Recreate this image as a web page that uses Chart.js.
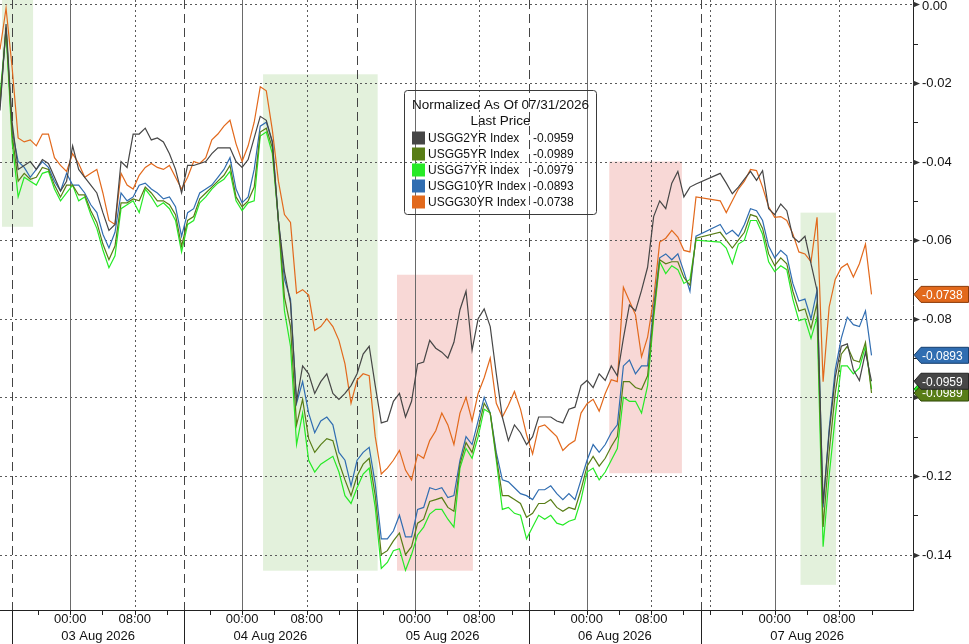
<!DOCTYPE html>
<html>
<head>
<meta charset="utf-8">
<title>USGG curve, normalized</title>
<script src="https://cdn.jsdelivr.net/npm/chart.js@4.4.1/dist/chart.umd.min.js"></script>
<style>
  html, body { margin: 0; padding: 0; background: #fff; }
  #wrap { position: relative; width: 969px; height: 644px; }
</style>
</head>
<body>
<div id="wrap"><canvas id="chartYields" width="969" height="644"></canvas></div>
<script>
/*
 * Treasury yields normalized to 07/31/2026, intraday 03-07 Aug 2026
 */
(function () {
  "use strict";

  var seriesNames = ["USGG2YR Index", "USGG5YR Index", "USGG7YR Index", "USGG10YR Index", "USGG30YR Index"];
  var lastPrices = [-0.0959, -0.0989, -0.0979, -0.0893, -0.0738];

  // one sample every 45 minutes of session time, values in thousandths
  var stepHours = 0.75;

  var usgg2yr = [
    -27, -5, -30, -42, -41, -40, -42, -39.5, -40.5, -44,
    -47.5, -45, -36, -42, -44, -46, -48, -53, -57.5, -56,
    -40, -41.5, -33, -33, -31.5, -34.5, -34, -35, -38, -42,
    -48, -41, -41, -40.5, -40, -38, -36.5, -36.5, -36.5, -40,
    -41.5, -39.5, -34, -28.5, -29.5, -35, -55, -68, -76, -101,
    -92, -94, -99, -96, -94, -99, -100.5, -99, -97, -94,
    -89, -87, -97, -106.5, -106, -101, -99, -105, -101, -91.5,
    -91, -85.5, -87.5, -88.5, -90, -86, -77.7, -73, -88, -80,
    -77.5, -82, -94, -105, -111, -107, -109, -112, -110, -105,
    -105, -105, -106, -106.5, -103, -102.5, -97, -95.7, -97.5, -94,
    -95.7, -92, -94.5, -85, -76.5, -78, -72.8, -66.9, -54, -50,
    -52, -45.5, -42.5, -49, -46.5, -45.7, null, null, null, -43,
    -45.5, -48.2, -46.5, -44.5, -42.5, -44.8, -42.3, -52, -53.5, -50.8,
    -52.5, -59.2, -60.5, -59, -66, -72.8, -127, -109, -95, -87,
    -86.4, -93, -95.7, -88.5, -95.9
  ];

  var usgg5yr = [
    -25, -6, -33, -45, -43, -44.5, -44, -41.5, -42, -46,
    -49, -46, -46, -48.5, -48.5, -52.5, -55.5, -61, -65, -61.5,
    -50.5, -50.5, -49.5, -50, -46.5, -48, -50, -50, -51, -53.5,
    -61.5, -55, -54, -49.5, -48, -46.5, -45, -43.5, -41, -49,
    -51.5, -50, -46.5, -32.5, -31.5, -36.5, -55, -74.5, -82, -107,
    -100.5, -110.5, -114, -112, -110.5, -111, -116.5, -121, -125, -120,
    -117, -115.5, -125, -140, -139, -136.5, -134.5, -140, -138, -132,
    -131, -126.5, -126, -125.5, -128, -129, -117, -111.5, -114, -108,
    -101.5, -104, -115, -125, -125, -126, -127, -130.5, -129.5, -127,
    -127, -126, -128, -129, -128, -128.5, -123.5, -117.5, -115, -117.5,
    -115.5, -112.5, -110, -96, -96, -97.5, -98, -94.5, -78.5, -65,
    -66, -65.5, -65.5, -69.5, -71.5, -59.5, null, null, null, -58,
    -60, -62, -60, -58, -53.5, -54, -57, -63.5, -66.5, -64.5,
    -66, -73, -78, -77.5, -82.5, -76, -133, -114, -99, -89,
    -87, -90.5, -91, -86, -98.9
  ];

  var usgg7yr = [
    -23, -7, -35, -49, -44, -45, -46, -43, -42.5, -47,
    -50, -48, -46, -50, -49, -53.5, -57, -62.5, -67, -64,
    -52, -51, -50, -53, -47, -49, -51.5, -50.5, -52, -55,
    -63, -56, -55, -50.5, -49, -47, -45.5, -44.5, -42.5, -50,
    -52.5, -50.5, -50, -33.5, -32.5, -38, -55, -78, -87, -112,
    -104, -116, -119, -117, -116, -115, -119, -125, -127, -123,
    -119.5, -118, -128, -143.5, -142, -139, -138.5, -144, -140, -135,
    -133, -129.7, -128.5, -128.5, -131, -133, -118, -113, -115.5, -110,
    -103, -104, -116, -128.5, -128, -129.5, -130, -136, -133, -130,
    -131, -130, -132, -132.5, -131.5, -131, -126, -119, -118, -121,
    -119, -116, -113, -100, -101, -101, -104, -97, -80, -65.5,
    -68.5, -66.5, -67.5, -71, -70, -60, null, null, null, -60.5,
    -62, -66, -61, -60, -55, -55, -58.5, -65.5, -68, -66.5,
    -67.5, -75, -80.5, -80, -85, -79.6, -138, -120, -105, -92,
    -92, -94, -92.5, -87, -97.9
  ];

  var usgg10yr = [
    -26, -6, -32, -40, -41.5, -44, -42, -40, -41.5, -45,
    -47.5, -43, -46, -46, -48, -51, -53, -58.5, -62, -58,
    -48, -50, -49, -46, -45.5, -47, -48, -49.5, -49, -51.5,
    -59, -53, -52, -48, -47, -46, -44, -42, -39, -47,
    -50.5, -49, -42, -31, -30, -35, -55, -70, -75, -101.5,
    -96, -104, -109, -106, -105, -107, -114, -116, -122.5, -116,
    -114, -112.7, -122, -136, -136, -134, -130, -135.5, -135.5, -128.5,
    -128, -123, -123.5, -123, -125.5, -125, -116, -110, -112, -106,
    -100, -104, -114, -121, -121.5, -123, -124.5, -125, -126, -123.5,
    -123.5, -122.5, -124.5, -126, -124.5, -126, -121, -116, -112, -114,
    -112, -109, -107, -92, -90.5, -94, -92, -92, -77, -64.5,
    -63.5, -65, -63.5, -68, -73, -59, null, null, null, -56,
    -58.5, -57.5, -59, -56, -52, -52.5, -55, -61.5, -64.5, -62.6,
    -64, -71, -75.5, -75, -80, -72.8, -128, -108, -93, -85,
    -79.6, -81.5, -82, -78, -89.3
  ];

  var usgg30yr = [
    -11.5, -1, -16, -34, -35, -34.5, -36, -33, -33, -39,
    -41, -42.5, -38, -40.5, -44, -43, -42, -48, -55, -56,
    -43, -46, -47, -43.5, -41.5, -40.5, -41.5, -42, -41, -44,
    -47, -44, -40, -40.5, -39, -34.5, -33, -31, -29.5, -35.5,
    -40, -36, -30, -21, -22, -32, -45, -53.5, -55.5, -73.5,
    -72.6, -74, -83, -82, -80, -82, -85.5, -91.5, -101.5, -95.6,
    -94, -94.5, -110, -119.5, -118, -116, -113.5, -118.5, -121, -114.5,
    -115.5, -111, -108.5, -104, -107, -112, -104, -100, -106, -99,
    -95, -90, -101.5, -105, -102, -98.5, -103, -109.5, -114.4, -107.5,
    -107, -108.5, -110, -113.5, -112, -111, -104, -101.6, -100.5, -103.5,
    -99, -95.5, -96, -72, -75.5, -79, -89.7, -84.7, -75, -60.5,
    -59.5, -57.5, -59.2, -62.6, -63, -49, null, null, null, -50,
    -53, -50, -47, -45, -42, -42.3, -46.5, -51.5, -54.2, -54,
    -55, -58.4, -63, -63.5, -65.5, -54.2, -96, -77, -70, -67,
    -66, -69.4, -66, -61, -73.8
  ];

  // x axis, in session hours from the left edge
  var dayLabels = ["03 Aug 2026", "04 Aug 2026", "05 Aug 2026", "06 Aug 2026", "07 Aug 2026"];
  var dayStarts = [1.5, 22.8, 44.2, 65.5, 86.9];
  var midnights = [8.7, 30.0, 51.4, 72.7, 96.0];
  var xEnd = 113.14;

  var yTicks = [0, -0.02, -0.04, -0.06, -0.08, -0.10, -0.12, -0.14];
  var yMin = -0.1541;
  var yMax = 0.0011;

  // highlighted windows: [from hour, to hour, top value, bottom value]
  var greenBands = [
    [0.25, 4.1, 0.0011, -0.0566],
    [32.6, 46.8, -0.0178, -0.1441],
    [99.2, 103.6, -0.053, -0.1477]
  ];
  var redBands = [
    [49.2, 58.6, -0.0688, -0.1441],
    [75.5, 84.5, -0.04, -0.1193]
  ];

  var colors = {
    lines: ["#464646", "#587d16", "#26ea26", "#306db1", "#e2691c"],
    tagBorder: ["#222", "#2f4a08", "#139013", "#163f6e", "#8a3a07"],
    greenBand: "#e3f1dc",
    redBand: "#f8d8d6",
    grid: "#5a5a5a",
    axis: "#222",
    text: "#111"
  };
  var font = '"Liberation Sans", Arial, sans-serif';

  function toPoints(arr) {
    return arr.map(function (v, i) {
      return { x: i * stepHours, y: v === null ? null : v / 1000 };
    });
  }

  function line(ctx, x0, y0, x1, y1) {
    ctx.beginPath();
    ctx.moveTo(x0, y0);
    ctx.lineTo(x1, y1);
    ctx.stroke();
  }

  var legendBox = { left: 404.5, top: 90.5, width: 192, height: 124 };

  var backdropPlugin = {
    id: "backdrop",
    beforeDatasetsDraw: function (chart) {
      var ctx = chart.ctx;
      var sx = chart.scales.x;
      var sy = chart.scales.y;
      var area = chart.chartArea;
      ctx.save();

      function band(b, fill) {
        var x0 = sx.getPixelForValue(b[0]);
        var x1 = sx.getPixelForValue(b[1]);
        var y0 = sy.getPixelForValue(b[2]);
        var y1 = sy.getPixelForValue(b[3]);
        ctx.fillStyle = fill;
        ctx.fillRect(x0, y0, x1 - x0, y1 - y0);
      }
      greenBands.forEach(function (b) { band(b, colors.greenBand); });
      redBands.forEach(function (b) { band(b, colors.redBand); });

      // legend panel sits under the grid
      ctx.fillStyle = "#ffffff";
      ctx.beginPath();
      ctx.roundRect(legendBox.left, legendBox.top, legendBox.width, legendBox.height, 3);
      ctx.fill();

      ctx.lineWidth = 1;
      ctx.strokeStyle = colors.grid;
      ctx.setLineDash([2, 3]);
      yTicks.forEach(function (v) {
        var py = Math.round(sy.getPixelForValue(v)) + 0.5;
        line(ctx, area.left, py, area.right, py);
      });

      for (var d = 0; d < dayStarts.length; d++) {
        var start = dayStarts[d];
        var next = d + 1 < dayStarts.length ? dayStarts[d + 1] : xEnd;
        var px;

        ctx.strokeStyle = "#444";
        ctx.setLineDash([9, 5]);
        px = Math.round(sx.getPixelForValue(start)) + 0.5;
        line(ctx, px, area.top, px, area.bottom);

        ctx.strokeStyle = "#6a6a6a";
        ctx.setLineDash([]);
        px = Math.round(sx.getPixelForValue(midnights[d])) + 0.5;
        line(ctx, px, area.top, px, area.bottom);

        ctx.strokeStyle = colors.grid;
        ctx.setLineDash([2, 3]);
        [-8, 8].forEach(function (off) {
          var h = midnights[d] + off;
          if (h > start && h < next) {
            var p = Math.round(sx.getPixelForValue(h)) + 0.5;
            line(ctx, p, area.top, p, area.bottom);
          }
        });
      }
      ctx.restore();
    }
  };

  var overlayPlugin = {
    id: "overlay",
    afterDatasetsDraw: function (chart) {
      var ctx = chart.ctx;
      ctx.save();
      ctx.lineWidth = 1;
      ctx.strokeStyle = "#3a3a3a";
      ctx.beginPath();
      ctx.roundRect(legendBox.left, legendBox.top, legendBox.width, legendBox.height, 3);
      ctx.stroke();

      ctx.fillStyle = colors.text;
      ctx.font = "13.5px " + font;
      ctx.textBaseline = "middle";
      ctx.textAlign = "center";
      var cx = legendBox.left + legendBox.width / 2;
      ctx.fillText("Normalized As Of 07/31/2026", cx, 105);
      ctx.fillText("Last Price", cx, 121);
      ctx.textAlign = "left";
      ctx.font = "12px " + font;
      seriesNames.forEach(function (name, i) {
        var ry = 138 + i * 16;
        ctx.fillStyle = colors.lines[i];
        ctx.fillRect(412, ry - 6.5, 13, 13);
        ctx.fillStyle = colors.text;
        ctx.fillText(name, 428, ry + 0.5);
        ctx.fillText(lastPrices[i].toFixed(4), 533, ry + 0.5);
      });
      ctx.restore();
    },
    afterDraw: function (chart) {
      var ctx = chart.ctx;
      var sx = chart.scales.x;
      var sy = chart.scales.y;
      var area = chart.chartArea;
      var h = chart.height;
      ctx.save();
      ctx.lineWidth = 1;
      ctx.strokeStyle = colors.axis;
      ctx.setLineDash([]);

      // axes
      line(ctx, area.left, area.bottom + 0.5, area.right + 1, area.bottom + 0.5);
      line(ctx, area.right + 0.5, area.top, area.right + 0.5, area.bottom + 1);

      // y ticks and labels
      ctx.font = "13px " + font;
      ctx.fillStyle = colors.text;
      ctx.textAlign = "left";
      ctx.textBaseline = "middle";
      for (var m = 1; m < 15; m += 2) {
        var my = Math.round(sy.getPixelForValue(-m / 100)) + 0.5;
        line(ctx, area.right, my, area.right + 5, my);
      }
      yTicks.forEach(function (v) {
        var py = Math.round(sy.getPixelForValue(v)) + 0.5;
        ctx.beginPath();
        ctx.moveTo(area.right, py - 3);
        ctx.lineTo(area.right + 7, py);
        ctx.lineTo(area.right, py + 3);
        ctx.closePath();
        ctx.fillStyle = "#333";
        ctx.fill();
        ctx.fillStyle = colors.text;
        var label = v === 0 ? "0.00" : v.toFixed(2);
        ctx.fillText(label, area.right + 9, Math.max(py, 6));
      });

      // x ticks and labels
      ctx.textAlign = "center";
      for (var d = 0; d < dayStarts.length; d++) {
        var start = dayStarts[d];
        var next = d + 1 < dayStarts.length ? dayStarts[d + 1] : xEnd;
        var ps = Math.round(sx.getPixelForValue(start)) + 0.5;
        line(ctx, ps, area.bottom, ps, h);
        for (var k = -8; k <= 12; k += 4) {
          var th = midnights[d] + k;
          if (th > start && th < next) {
            var tp = Math.round(sx.getPixelForValue(th)) + 0.5;
            line(ctx, tp, area.bottom, tp, area.bottom + 5);
          }
        }
        ctx.fillStyle = colors.text;
        ctx.fillText("00:00", sx.getPixelForValue(midnights[d]), area.bottom + 9);
        ctx.fillText("08:00", sx.getPixelForValue(midnights[d] + 8), area.bottom + 9);
        var mid = (sx.getPixelForValue(start) + sx.getPixelForValue(next)) / 2;
        ctx.fillText(dayLabels[d], mid, area.bottom + 26);
      }

      // last value tags, back to front
      [2, 1, 0, 3, 4].forEach(function (i) {
        var ty = sy.getPixelForValue(lastPrices[i]);
        var tip = area.right + 1;
        var left = tip + 7;
        var right = chart.width - 0.5;
        ctx.beginPath();
        ctx.moveTo(tip, ty);
        ctx.lineTo(left, ty - 8);
        ctx.lineTo(right, ty - 8);
        ctx.lineTo(right, ty + 8);
        ctx.lineTo(left, ty + 8);
        ctx.closePath();
        ctx.fillStyle = colors.lines[i];
        ctx.fill();
        ctx.strokeStyle = colors.tagBorder[i];
        ctx.stroke();
        ctx.fillStyle = "#ffffff";
        ctx.textAlign = "left";
        ctx.font = "12px " + font;
        ctx.fillText(lastPrices[i].toFixed(4), left + 1, ty + 1);
      });
      ctx.restore();
    }
  };

  function initYieldChart() {
    var el = document.getElementById("chartYields");
    if (!el || typeof Chart === "undefined") return;

    var all = [usgg2yr, usgg5yr, usgg7yr, usgg10yr, usgg30yr];

    new Chart(el, {
      type: "line",
      data: {
        datasets: all.map(function (arr, i) {
          return {
            label: seriesNames[i],
            data: toPoints(arr),
            borderColor: colors.lines[i],
            backgroundColor: colors.lines[i],
            borderWidth: 1.2,
            pointRadius: 0,
            tension: 0,
            spanGaps: true,
            fill: false
          };
        })
      },
      options: {
        responsive: false,
        animation: false,
        devicePixelRatio: 1,
        layout: { padding: { left: 0, top: 0, right: 56, bottom: 34 } },
        plugins: {
          legend: { display: false },
          tooltip: { enabled: false }
        },
        scales: {
          x: { type: "linear", min: 0, max: xEnd, display: false },
          y: { type: "linear", min: yMin, max: yMax, display: false }
        }
      },
      plugins: [backdropPlugin, overlayPlugin]
    });
  }

  document.addEventListener("DOMContentLoaded", initYieldChart);
})();
</script>
</body>
</html>
